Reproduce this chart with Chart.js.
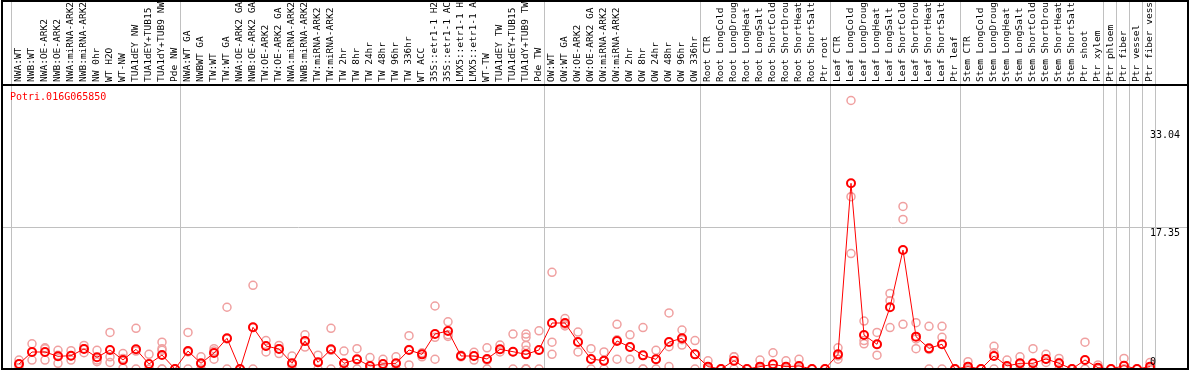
<!DOCTYPE html>
<html>
<head>
<meta charset="utf-8">
<script src="https://cdn.jsdelivr.net/npm/chart.js@4/dist/chart.umd.min.js"></script>
<style>
  html, body { margin: 0; padding: 0; background: #fff; }
  canvas { display: block; }
</style>
</head>
<body>
<canvas id="chart" width="1194" height="370"></canvas>
<script>
const geneName = 'Potri.016G065850';

const categories = [
  'NWA:WT', 'NWB:WT', 'NWA:OE-ARK2', 'NWB:OE-ARK2', 'NWA:miRNA-ARK2', 'NWB:miRNA-ARK2',
  'NW 0hr', 'WT H2O', 'WT-NW', 'TUA1dEY NW', 'TUA1dEY+TUB15 NW', 'TUA1dY+TUB9 NW', 'Pde NW',
  'NWA:WT GA', 'NWBWT GA', 'TW:WT', 'TW:WT GA', 'NWA:OE-ARK2 GA', 'NWB:OE-ARK2 GA',
  'TW:OE-ARK2', 'TW:OE-ARK2 GA', 'NWA:miRNA-ARK2 GA', 'NWB:miRNA-ARK2 GA', 'TW:miRNA-ARK2',
  'TW:miRNA-ARK2 GA', 'TW 2hr', 'TW 8hr', 'TW 24hr', 'TW 48hr', 'TW 96hr', 'TW 336hr',
  'WT ACC', '35S::etr1-1 H2O', '35S::etr1-1 ACC', 'LMX5::etr1-1 H2O', 'LMX5::etr1-1 ACC',
  'WT-TW', 'TUA1dEY TW', 'TUA1dEY+TUB15 TW', 'TUA1dY+TUB9 TW', 'Pde TW',
  'OW:WT', 'OW:WT GA', 'OW:OE-ARK2', 'OW:OE-ARK2 GA', 'OW:miRNA-ARK2', 'OW:miRNA-ARK2 GA',
  'OW 2hr', 'OW 8hr', 'OW 24hr', 'OW 48hr', 'OW 96hr', 'OW 336hr',
  'Root CTR', 'Root LongCold', 'Root LongDrought', 'Root LongHeat', 'Root LongSalt',
  'Root ShortCold', 'Root ShortDrought', 'Root ShortHeat', 'Root ShortSalt', 'Ptr root',
  'Leaf CTR', 'Leaf LongCold', 'Leaf LongDrought', 'Leaf LongHeat', 'Leaf LongSalt',
  'Leaf ShortCold', 'Leaf ShortDrought', 'Leaf ShortHeat', 'Leaf ShortSalt', 'Ptr leaf',
  'Stem CTR', 'Stem LongCold', 'Stem LongDrought', 'Stem LongHeat', 'Stem LongSalt',
  'Stem ShortCold', 'Stem ShortDrought', 'Stem ShortHeat', 'Stem ShortSalt', 'Ptr shoot',
  'Ptr xylem', 'Ptr phloem', 'Ptr fiber', 'Ptr vessel', 'Ptr fiber vessel',
];

// mean expression per sample
const means = [
  0.62, 2.09, 2.09, 1.56, 1.64, 2.46, 1.44, 2.34, 1.11, 2.42, 0.62, 1.72, 0,
  2.21, 0.7, 1.97, 3.78, 0, 5.13, 2.83, 2.46, 0.7, 3.45, 0.82, 2.42, 0.7, 1.19, 0.37,
  0.62, 0.7, 2.34, 1.8, 4.31, 4.68, 1.6, 1.6, 1.23, 2.42, 2.13, 1.8, 2.34,
  5.66, 5.66, 3.32, 1.23, 1.02, 3.45, 2.71, 1.68, 1.19, 3.32, 3.78, 1.8,
  0.29, 0, 1.02, 0, 0.29, 0.57, 0.29, 0.37, 0, 0,
  1.8, 22.85, 4.18, 3.04, 7.59, 14.64, 3.98, 2.54, 3.04, 0,
  0.29, 0, 1.6, 0.37, 0.7, 0.7, 1.23, 0.7, 0, 1.11, 0.16,
  0, 0.41, 0, 0.29,
];

// individual replicates per sample
const replicates = [
  [1.1, 0.6, 0.1], [3.1, 2.1, 1.1], [2.6, 2.5, 1.1], [2.3, 1.7, 0.7], [2.25, 1.6, 1.1],
  [2.9, 2.5, 2.0], [2.3, 1.1, 0.9], [4.5, 1.5, 0.8], [1.9, 1.3, 0.1], [5.0, 2.2, 0],
  [1.8, 0, 0], [3.3, 2.5, 2.3, 0, 0], [0, 0],
  [4.5, 2.1, 0], [1.5, 0.6, 0], [2.5, 2.2, 1.2], [7.6, 3.7, 0], [0, 0], [10.3, 5.1, 0],
  [3.5, 2.8, 2.1], [2.9, 2.5, 1.9], [1.6, 0.5, 0], [4.2, 3.4, 2.7], [1.7, 0.8, 0],
  [5.0, 2.3, 0], [2.2, 0, 0], [2.5, 1.1, 0], [1.4, 0, 0], [1.2, 0.6, 0], [1.5, 0.6, 0],
  [4.1, 2.4, 0.5], [2.0, 1.8, 1.5], [7.75, 3.9, 1.2], [5.8, 4.2, 4.0], [1.7, 1.6, 1.5],
  [2.05, 1.6, 1.1], [2.6, 1.1, 0], [2.95, 2.4, 2.1], [4.3, 2.1, 0],
  [4.3, 3.9, 2.9, 2.3, 0, 0, 0, 0], [4.7, 2.3, 0],
  [11.9, 3.3, 1.8], [6.2, 5.5, 5.3], [4.55, 3.3, 2.1], [2.5, 1.2, 0], [2.1, 1.0, 0],
  [5.5, 3.6, 1.2], [4.2, 2.7, 1.2], [5.1, 0, 0], [2.3, 1.2, 0], [6.9, 2.75, 0.3],
  [4.8, 3.6, 2.95], [3.5, 1.8, 0],
  [1.0, 0, 0], [0, 0], [1.5, 1.5, 0], [0, 0], [1.1, 0, 0], [2.0, 0, 0], [1.0, 0, 0],
  [1.2, 0, 0], [0, 0], [0, 0],
  [2.6, 1.6, 1.2], [33.04, 21.2, 14.2], [5.9, 3.5, 3.1], [4.5, 3.0, 1.7], [9.3, 8.4, 5.1],
  [20.0, 18.4, 5.5], [5.7, 3.7, 2.5], [5.25, 2.4, 0], [5.25, 3.9, 0], [0, 0],
  [0.9, 0, 0], [0, 0], [2.8, 2.0, 0], [1.1, 0, 0], [1.5, 0.6, 0], [2.5, 0, 0],
  [1.8, 1.2, 0.8], [1.3, 0.8, 0], [0, 0], [3.3, 0, 0], [0.5, 0, 0],
  [0, 0], [1.3, 0, 0], [0, 0], [0.8, 0, 0],
];

const yTicks = [0, 17.35, 33.04];
const groupBreaks = [-0.5, 12.5, 40.5, 52.5, 62.5, 72.5, 83.5, 84.5, 85.5, 86.5, 87.5];

const monoFont = '"DejaVu Sans Mono", monospace';

// drop the extra room Chart.js keeps for rotated / edge labels
const noScalePadding = (scale) => {
  scale.paddingLeft = 0;
  scale.paddingRight = 0;
  scale.paddingTop = 0;
  scale.paddingBottom = 0;
};

const framePlugin = {
  id: 'frame',
  beforeDatasetsDraw(chart) {
    const { ctx, chartArea, scales: { x } } = chart;
    ctx.save();
    ctx.strokeStyle = '#c0c0c0';
    ctx.lineWidth = 1;
    groupBreaks.forEach((b) => {
      const px = Math.floor(x.getPixelForValue(b) - 1.5) + 0.5;
      ctx.beginPath();
      ctx.moveTo(px, 0);
      ctx.lineTo(px, chartArea.bottom);
      ctx.stroke();
    });
    ctx.restore();
  },
  afterDraw(chart) {
    const { ctx, chartArea: { left, right, top, bottom }, scales: { y } } = chart;
    ctx.save();
    ctx.strokeStyle = '#000';
    ctx.lineWidth = 2;
    ctx.beginPath();
    ctx.moveTo(left, 0); ctx.lineTo(left, bottom + 1);
    ctx.moveTo(right, 0); ctx.lineTo(right, bottom + 1);
    ctx.moveTo(left, 1); ctx.lineTo(right, 1);
    ctx.moveTo(left, top); ctx.lineTo(right, top);
    ctx.moveTo(left, bottom); ctx.lineTo(right, bottom);
    ctx.stroke();

    ctx.font = '10px ' + monoFont;
    ctx.textBaseline = 'middle';
    ctx.textAlign = 'left';
    ctx.fillStyle = '#ff0000';
    ctx.fillText(geneName, 10, top + 12);

    // value labels sit inside the plot, against the right edge
    const labelShift = [-7, 5, 35];
    ctx.fillStyle = '#000';
    yTicks.forEach((v, i) => {
      ctx.fillText(String(v), right - 38, y.getPixelForValue(v) + labelShift[i]);
    });
    ctx.restore();
  },
};

const ctx = document.getElementById('chart').getContext('2d');

new Chart(ctx, {
  type: 'scatter',
  data: {
    datasets: [
      {
        label: 'mean',
        data: means.map((v, i) => ({ x: i, y: v })),
        showLine: true,
        borderColor: '#ff0000',
        borderWidth: 1,
        pointRadius: 4,
        pointBorderWidth: 2,
        pointBorderColor: '#ff0000',
        pointBackgroundColor: 'rgba(0,0,0,0)',
        order: 0,
      },
      {
        label: 'replicates',
        data: replicates.flatMap((reps, i) => reps.map((v) => ({ x: i, y: v }))),
        showLine: false,
        pointRadius: 4,
        pointBorderWidth: 1.5,
        pointBorderColor: '#f0a0a0',
        pointBackgroundColor: 'rgba(0,0,0,0)',
        order: 1,
      },
    ],
  },
  options: {
    responsive: false,
    animation: false,
    layout: { autoPadding: false, padding: { left: 2, right: 6, top: 0, bottom: 1 } },
    plugins: {
      legend: { display: false },
      tooltip: { enabled: false },
    },
    scales: {
      x: {
        type: 'linear',
        position: 'top',
        min: -17 / 13,
        max: -17 / 13 + 1186 / 13,
        afterBuildTicks: (scale) => {
          scale.ticks = categories.map((_, i) => ({ value: i }));
        },
        afterFit: (scale) => {
          scale.height = 85;
          noScalePadding(scale);
        },
        grid: { display: false, drawTicks: false },
        border: { display: false },
        ticks: {
          autoSkip: false,
          minRotation: 90,
          maxRotation: 90,
          padding: 3,
          labelOffset: 11,
          color: '#000',
          font: { family: monoFont, size: 9.5 },
          callback: (v) => categories[v] ?? '',
        },
      },
      y: {
        position: 'right',
        min: 0,
        max: 284 / 8.127,
        afterBuildTicks: (scale) => {
          scale.ticks = yTicks.map((v) => ({ value: v }));
        },
        afterFit: (scale) => {
          scale.width = 0;
          noScalePadding(scale);
        },
        grid: {
          drawTicks: false,
          color: (c) => (c.tick && c.tick.value === 17.35 ? '#c0c0c0' : 'rgba(0,0,0,0)'),
        },
        border: { display: false },
        ticks: { display: false },
      },
    },
  },
  plugins: [framePlugin],
});
</script>
</body>
</html>
